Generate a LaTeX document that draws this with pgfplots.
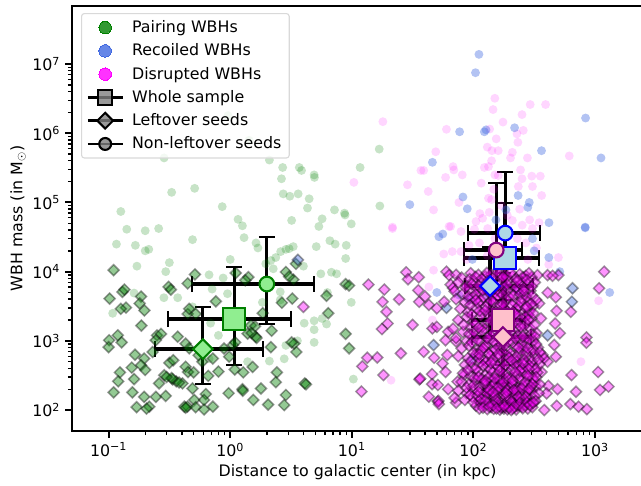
\documentclass[border=0pt]{standalone}
\usepackage{fontspec}
\setmainfont{DejaVu Sans}
\usepackage{pgfplots}
\pgfplotsset{compat=1.18}
\definecolor{royal}{HTML}{4169E1}
\definecolor{mag}{HTML}{FF00FF}
\definecolor{lgreen}{HTML}{90EE90}
\definecolor{lblue}{HTML}{ADD8E6}
\definecolor{lpink}{HTML}{FFC0CB}
\definecolor{dpurple}{HTML}{800080}
\definecolor{dgreen}{HTML}{008000}
\newcommand{\fs}{\fontsize{11.4}{13.6}\selectfont}
\pgfplotsset{
  dot/.style 2 args={only marks, forget plot, mark=*, mark size=3.2pt, mark options={fill=#1, fill opacity=#2, draw opacity=0, line width=0pt}},
  dia/.style={only marks, forget plot, mark=square*, mark size=2.8pt, mark options={rotate=45, fill=#1, draw=black, fill opacity=0.42, draw opacity=0.38, line width=1.1pt}},
  stat/.style n args={5}{only marks, forget plot, mark=#1, mark size=#2, mark options={rotate=#3, draw=#4, fill=#5, line width=1.5pt},
    error bars/x dir=both, error bars/y dir=both, error bars/x explicit, error bars/y explicit,
    error bars/error bar style={black, line width=2.3pt},
    error bars/error mark options={rotate=90, black, mark size=5.8pt, line width=1.5pt}},
}
\begin{document}
\begin{tikzpicture}
\useasboundingbox (0,0) rectangle (461.52pt,349.2pt);
\begin{axis}[
  at={(51.84pt,38.88pt)}, anchor=south west,
  scale only axis, width=411.12pt, height=306pt,
  xmode=log, ymode=log,
  xmin=0.05, xmax=2480, ymin=49.8, ymax=6.9e7,
  xtick={0.1,1,10,100,1000},
  xticklabels={10\textsuperscript{−1},10\textsuperscript{0},10\textsuperscript{1},10\textsuperscript{2},10\textsuperscript{3}},
  ytick={100,1000,10000,100000,1000000,10000000},
  yticklabels={10\textsuperscript{2},10\textsuperscript{3},10\textsuperscript{4},10\textsuperscript{5},10\textsuperscript{6},10\textsuperscript{7}},
  tick pos=left, tick align=outside,
  tick label style={font=\fs},
  axis line style={line width=1.9pt},
  major tick length=5pt, minor tick length=3pt,
  every tick/.style={black, line width=1.4pt},
  minor tick style={black, line width=1pt},
  xlabel={Distance to galactic center (in kpc)},
  ylabel={WBH mass (in M$_\odot$)},
  xlabel style={font=\fs, at={(axis description cs:0.5,0)}, anchor=center, yshift=-29.5pt},
  ylabel style={font=\fs, at={(axis description cs:0,0.5)}, anchor=center, yshift=38.8pt},
  legend style={font=\fs, at={(axis description cs:0.0158,0.9835)}, anchor=north west,
    draw=black!15, line width=0.8pt, rounded corners=2pt, fill=white, fill opacity=0.8, text opacity=1,
    row sep=2.6pt, inner xsep=3.6pt, inner ysep=3pt},
  legend cell align=left,
  legend image code/.code={\draw[#1] plot[mark=none] coordinates {(0pt,0pt) (25pt,0pt)}; \path[#1, draw=none] plot coordinates {(12.5pt,0pt)}; \path (29pt,0pt);},
]
% light circles: pairing
\addplot[dot={dgreen}{0.22}] coordinates {
(2.64,2.2e5)(3.86,2.9e5)(4.93,2.3e5)(.33,1.4e5)(.51,1.6e5)(2.73,1.33e5)(3.09,1.23e5)(3.62,1.33e5)(4.46,1.13e5)(4.32,8.3e4)
(.86,8.7e4)(.126,7.4e4)(8.8,6.6e4)(1.16,5.7e4)(1.26,4.6e4)(3.2,5.5e4)(5.7,5.8e4)(5.36,4.5e4)(.141,4.1e4)(.2,3.9e4)
(.258,4.2e4)(1.3,3.1e4)(6.6,2.8e4)(7.3,2.5e4)(1.63,2.6e4)(1.69,2.2e4)(3.3,2.3e4)(5.1,2.3e4)(.49,2.9e4)(.116,2.5e4)
(.166,2.4e4)(.2,2e4)(.214,2.1e4)(2.6,1.95e4)(2.87,2.1e4)(3.05,2.15e4)(2.37,1.6e4)(2.16,1.45e4)(1.96,1.3e4)(2.26,1.1e4)
(.316,1.35e4)(1.0,1.5e4)(.171,1.2e4)(.295,1e4)(.67,9e3)(.875,8.1e3)(5.56,9.3e3)(7.5,9.3e3)(8.9,1.55e4)(4,1.2e4)
(.71,5.6e3)(.37,4.2e3)(.285,4.2e3)(2.58,5.1e3)(2.58,3.9e3)(1.84,3.6e3)(.162,4.9e3)(.108,2.5e3)(.49,3.1e3)(.95,4.8e3)
(4.06,1.8e3)(4.9,1.95e3)(5.7,2.1e3)(6.2,1.75e3)(4.9,1.45e3)(3.57,1e3)(.8,1.2e3)(2.87,860)(4.9,950)(2.78,550)
(2.1,510)(1.39,500)(.69,1.8e3)(.67,550)(.286,4.4e5)(.96,1.8e6)(1.43,7.9e5)(3.7,3.2e5)(16.8,5.9e5)(11.7,3.2e5)
(17,8.9e4)(9.9,4.9e4)(4.9,2.5e5)(8.7,7e4)(7.2,7.8e4)(2.7,3.2e5)(2.1,4.1e5)(6.8,9.8e3)(9,2.4e4)(6.3,5e3)(10.3,280)(9.9,3.6e3)
};
% light circles: disrupted
\addplot[dot={mag}{0.16}] coordinates {
(18,1.47e6)(150,3.2e6)(145,2.2e6)(293,2.6e6)(392,2.6e6)(251,1.86e6)(175,1.45e6)(60,1.14e6)(136,1.15e6)(257,1.1e6)
(228,9.8e5)(154,8.3e5)(232,7.4e5)(130,6.3e5)(142,5.6e5)(160,5.6e5)(209,5.3e5)(202,4.4e5)(278,4.4e5)(614,4.7e5)
(49,5.4e5)(141,4e5)(133,3.3e5)(123,3.2e5)(244,2.95e5)(68,3.3e5)(69,2.95e5)(39,2.9e5)(37,2.9e5)(81,2.5e5)
(59,2.3e5)(10.4,1.95e5)(28.7,1.8e5)(150,2.5e5)(160,2.45e5)(251,2.2e5)(302,2.4e5)(355,2.4e5)(116,1.9e5)(147,1.55e5)
(234,1.7e5)(306,1.7e5)(42.5,1.44e5)(364,1.26e5)(133,1.15e5)(141,1.1e5)(76,1e5)(47,7.8e4)(135,7.2e4)(113,6.9e4)
(119,5.9e4)(105,5.3e4)(290,5.6e4)(347,5.1e4)(209,5.5e4)(252,4.7e4)(65,4.5e4)(21.6,4.4e4)(102,4.1e4)(131,4.2e4)
(306,4.2e4)(21.6,4.2e4)(63,4.5e4)(79,3.8e4)(57,1.8e4)(67,1.95e4)(79,1.95e4)(92,2.4e4)(112,2.6e4)(500,1.6e4)
(416,1.27e4)(47,1.05e4)(43,6000)(1070,3800)(766,500)(21,270)(46,2000)(170,3.6e4)(230,3e4)(270,2.6e4)
(150,3e4)(190,6.5e4)(240,8e4)(88,1.5e4)(130,1.7e4)(330,2.2e4)(280,1.5e4)(170,9e4)
};
% light circles: recoiled
\addplot[dot={royal}{0.4}] coordinates {
(111,1.38e7)(104,7.5e6)(836,1.66e6)(218,1.2e6)(77,1.05e6)(123,1.05e6)(127,1.12e6)(363,5.6e5)(1120,4.4e5)(46,3.8e5)
(82,1.2e5)(233,1.26e5)(30,9.3e4)(288,1e5)(280,8.5e4)(89,8.1e4)(185,7.8e4)(153,5.6e4)(418,5.1e4)(830,4.4e4)
(195,3.8e4)(56,3.5e4)(52,3.2e4)(830,4.3e4)(306,3e4)(316,2e4)(417,1.6e4)(513,1e4)(1320,5000)(50,5000)(76,4600)(98,1.5e4)
};
% leftover seeds
\addplot[dia={dgreen}] coordinates {
(.11,1.05e4)(.13,5100)(.135,5500)(.102,4080)(.185,4370)(.139,3020)(.126,2900)(.18,3470)(.197,2750)(.186,1660)
(.311,6030)(.325,5500)(.447,6760)(.513,9120)(.762,3720)(1.41,8320)(1.33,7500)(1.11,9550)(3.47,13000)(2.87,9880)
(3.31,7670)(3.05,8500)(3.24,4080)(2.66,3550)(6.2,4470)(6.4,2510)(1.85,2510)(.447,2450)(.52,2450)(.46,2900)
(8.9,6600)(9.5,6300)(.119,1200)(.101,1020)(.128,950)(.1,810)(.25,1200)(.27,1260)(.244,1020)(.23,690)
(.37,1150)(.43,910)(.46,780)(.165,630)(.196,555)(.185,445)(.2,380)(.155,410)(.124,350)(.12,260)
(.162,280)(.11,180)(.157,180)(.196,155)(.245,155)(.295,160)(.17,110)(.216,112)(.205,105)(.42,112)
(.445,112)(.43,108)(.506,140)(.52,110)(.61,102)(.72,112)(.63,170)(.61,140)(.97,175)(1.26,200)
(1.27,190)(1.79,205)(1.55,140)(2.05,120)(2.87,165)(2.78,118)(2.42,350)(2.37,253)(4.1,243)(4.2,235)
(1.53,420)(1.28,350)(1.09,385)(.8,360)(.66,312)(.49,205)(.405,243)(.336,277)(.287,318)(.26,243)
(.316,480)(.34,525)(.43,422)(.45,355)(.59,500)(.72,555)(.89,775)(1.05,870)(.98,590)(1.48,1680)
(1.6,1620)(1.39,1270)(1.62,1150)(2.19,1400)(2.16,810)(3.36,910)(3.5,690)(3.2,950)(8.9,1260)(9.5,780)
(.36,260)(.38,250)(.33,290)(.3,300)(.5,350)(.55,620)(1.1,950)(1.5,1300)(1.65,1100)
};
\addplot[dia={royal}] coordinates {
(3.6,1.48e4)(47,870)(653,5750)(645,3670)(407,1200)(92,4000)(98,550)(229,5400)(60,3000)(180,6200)(130,4500)
};
\addplot[dia={mag}] coordinates {
(4,3100)(13.7,6500)(18.5,5500)(17.9,3670)(24.5,3980)(19.3,2630)(19.7,1780)(17.7,1480)(31.6,1700)(28,9770)
(29,7760)(35.5,8300)(35.2,5370)(35.8,3670)(40,4370)(43,3310)(50,2950)(57.5,3670)(46,1510)(50,1590)
(62,1350)(59,1020)(72,980)(25.3,660)(16.2,575)(13.4,570)(12.2,427)(39,695)(47.5,570)(61,625)
(55.7,470)(59,355)(18.2,320)(12,185)(36,277)(36.5,285)(45.7,330)(45.7,237)(51,230)(62,200)
(43,156)(51,132)(51.5,136)(52,122)(72,128)(74,257)(84,320)(60,1e4)(63,8900)(65,6500)
(68,5800)(1190,1e4)(1080,5750)(632,2630)(408,4960)(476,4260)(347,3470)(483,2720)(359,2110)(470,1780)
(513,1290)(462,870)(370,625)(476,590)(407,500)(363,355)(850,1120)(850,940)(1060,355)(641,320)
(697,184)(1100,195)(1290,218)(492,200)(413,224)(400,174)(326,218)(383,100)(484,115)(627,122)
(732,112)(857,103)(316,132)(407,8900)(500,8900)(447,8700)(336,8900)
(72,9000)(80,8200)(95,9500)(110,9000)(125,8500)(140,9200)(160,8800)(180,9400)(210,8600)(240,9100)(270,8700)(300,8300)
(75,7000)(88,6300)(100,7400)(118,6800)(135,7300)(150,6100)(170,6900)(195,7500)(215,6400)(250,7100)(280,6600)(320,7000)
(70,5200)(82,4800)(95,5500)(112,5000)(128,5700)(145,4700)(165,5200)(205,4900)(235,5500)(265,4800)(295,5300)
(72,4000)(85,3600)(98,4200)(115,3800)(132,3400)(152,4100)(185,3800)(220,3500)(250,4100)(285,3700)(310,3200)
(78,2900)(90,2600)(105,3000)(120,2500)(140,2800)(160,3100)(190,2600)(225,2900)(255,2500)(290,2700)
(75,2000)(88,2200)(100,1900)(115,2300)(130,1800)(148,2100)(168,1700)(200,2300)(240,2000)(270,1800)(300,2100)
(68,1500)(82,1350)(95,1600)(108,1250)(125,1500)(145,1300)(165,1450)(190,1250)(225,1500)(255,1350)(290,1550)(330,1300)
(72,1100)(88,1000)(100,1150)(115,950)(135,1050)(155,900)(180,1100)(210,950)(240,1050)(275,920)(310,1000)
(80,780)(92,850)(108,740)(125,820)(142,700)(165,800)(190,720)(225,830)(260,760)(300,700)(340,800)
(75,600)(90,560)(105,640)(120,530)(138,610)(160,570)(185,630)(215,540)(250,600)(290,560)(320,620)(380,560)
(85,450)(98,410)(112,480)(130,430)(150,470)(172,400)(200,460)(235,420)(270,480)(310,430)(350,460)
(82,340)(95,310)(110,360)(125,320)(145,350)(168,300)(195,340)(225,310)(260,360)(295,320)(335,350)
(80,255)(92,235)(105,270)(122,240)(140,260)(160,225)(185,255)(215,230)(245,265)(280,240)(320,260)
(75,190)(88,175)(100,200)(115,180)(130,195)(150,170)(172,200)(198,175)(230,195)(265,170)(300,190)(345,175)
(70,150)(85,140)(98,155)(112,135)(128,150)(145,130)(165,150)(190,135)(215,155)(250,135)(285,150)
(105,115)(122,120)(140,110)(158,118)(178,105)(200,115)(225,102)(250,112)(280,105)(130,103)(165,101)(190,102)
(93,7800)(104,8400)(117,7900)(129,9600)(146,8100)(158,9800)(172,8000)(188,8400)(203,9700)(226,7900)(256,8300)(286,9500)
(86,5900)(97,6600)(108,5700)(122,6100)(138,6500)(156,5500)(176,6000)(187,5300)(224,5900)(244,6500)(262,5800)(302,6100)
(91,4400)(104,4700)(121,4300)(136,4900)(158,4500)(174,4600)(196,4300)(214,4500)(242,4700)(272,4300)(304,4500)(328,3900)
(94,3300)(109,3500)(126,3100)(147,3600)(166,3300)(178,3000)(207,3300)(236,3200)(268,3000)(298,3400)
(97,2400)(112,2700)(134,2350)(153,2600)(173,2400)(212,2600)(232,2350)(263,2200)(283,2400)(312,2500)
(83,1700)(104,1750)(118,1600)(138,1950)(157,1650)(182,1900)(207,1700)(228,1800)(262,1650)(282,2000)(318,1700)
(92,1250)(101,1350)(118,1400)(138,1200)(158,1150)(174,1300)(203,1350)(232,1200)(268,1100)(299,1250)(322,1150)
(97,950)(108,1020)(127,880)(146,980)(167,860)(195,990)(222,1080)(252,880)(288,1050)(328,900)
(100,670)(116,720)(133,650)(152,750)(174,680)(202,660)(238,700)(272,660)(312,730)(352,680)
(95,500)(111,560)(128,500)(145,540)(178,520)(197,570)(228,500)(262,530)(302,500)(342,540)
(105,395)(120,440)(138,380)(158,430)(182,440)(208,390)(225,440)(252,400)(288,440)(325,390)
(90,380)(102,290)(118,280)(135,300)(155,320)(178,330)(207,290)(240,300)(273,325)(308,290)(328,300)
(88,210)(100,225)(112,215)(132,215)(150,245)(172,230)(200,215)(232,210)(258,225)(296,215)(352,235)
(94,165)(108,160)(122,165)(138,170)(158,185)(178,165)(208,185)(218,160)(242,175)(278,185)(318,160)
(100,130)(115,125)(135,125)(152,140)(172,128)(200,145)(228,128)(262,142)(295,125)(325,135)
(112,105)(147,104)(172,112)(210,106)(238,118)(268,118)(305,110)
(125,240)(145,225)(165,270)(185,210)(205,245)(225,190)(240,145)(185,155)(165,115)(210,125)(150,155)(230,115)(130,175)(115,145)(195,115)(180,120)
(110,6300)(130,7200)(175,8400)(230,7400)(275,7600)(120,5400)(150,5800)(190,6500)(260,5300)(105,3900)(140,3800)(175,3400)
(245,3700)(125,2750)(165,2300)(220,2450)(275,3100)(110,1550)(150,1750)(195,1500)(245,1600)(130,1100)(190,1150)(255,1150)
(120,780)(180,860)(235,800)(280,780)(112,640)(160,640)(225,590)(140,480)(205,520)(255,470)(165,370)(240,370)(285,390)
(110,300)(150,285)(190,290)(220,350)(280,310)(125,265)(175,250)(210,265)(265,250)(305,235)(135,195)(160,210)(188,190)
(215,195)(250,205)(285,200)(110,185)(145,180)(185,175)(235,155)(270,155)(125,135)(158,130)(205,132)(240,125)(275,128)
(145,118)(168,108)(195,108)(218,112)(255,106)(120,108)(135,112)(155,105)(180,112)(205,100)(290,118)(310,128)
};
% statistics, pairing
\addplot[stat={square*}{7.8pt}{0}{dgreen}{lgreen}] coordinates {(1.08,2066) += (2.09,9584) -= (0.771,1619)};
\addplot[stat={square*}{5pt}{45}{dgreen}{lgreen}] coordinates {(0.596,761) += (1.274,2351) -= (0.356,523)};
\addplot[stat={*}{5.3pt}{0}{dgreen}{lgreen}] coordinates {(2.0,6620) += (2.91,24980) -= (1.513,4870)};
% statistics, recoiled
\addplot[stat={square*}{7.8pt}{0}{blue}{lblue}] coordinates {(182,15700) += (166,82300) -= (98,12910)};
\addplot[stat={square*}{5pt}{45}{blue}{lblue}] coordinates {(137,6190) += (173,16410) -= (51.4,5015)};
\addplot[stat={*}{5.3pt}{0}{blue}{lblue}] coordinates {(182.6,36100) += (169.4,238900) -= (92.6,29700)};
% statistics, disrupted
\addplot[stat={square*}{7.8pt}{0}{dpurple}{lpink}] coordinates {(175,2000) += (90,7550) -= (78,1553)};
\addplot[stat={square*}{5pt}{45}{dpurple}{lpink}] coordinates {(175,1135) += (124,2755) -= (78,890)};
\addplot[stat={*}{5.3pt}{0}{dpurple}{lpink}] coordinates {(154,20500) += (98,169500) -= (70,15080)};
% legend
\addlegendimage{only marks, mark=*, mark size=4.5pt, mark options={fill=dgreen, draw=dgreen, line width=0pt}}
\addlegendentry{Pairing WBHs}
\addlegendimage{only marks, mark=*, mark size=4.5pt, mark options={fill=royal, draw=royal, line width=0pt}}
\addlegendentry{Recoiled WBHs}
\addlegendimage{only marks, mark=*, mark size=4.5pt, mark options={fill=mag, draw=mag, line width=0pt}}
\addlegendentry{Disrupted WBHs}
\addlegendimage{black, line width=1.8pt, mark=square*, mark size=5.2pt, mark options={fill=gray, line width=1.5pt}}
\addlegendentry{Whole sample}
\addlegendimage{black, line width=1.8pt, mark=square*, mark size=4pt, mark options={fill=gray, rotate=45, line width=1.5pt}}
\addlegendentry{Leftover seeds}
\addlegendimage{black, line width=1.8pt, mark=*, mark size=4.3pt, mark options={fill=gray, line width=1.5pt}}
\addlegendentry{Non-leftover seeds}
\end{axis}
\end{tikzpicture}
\end{document}
